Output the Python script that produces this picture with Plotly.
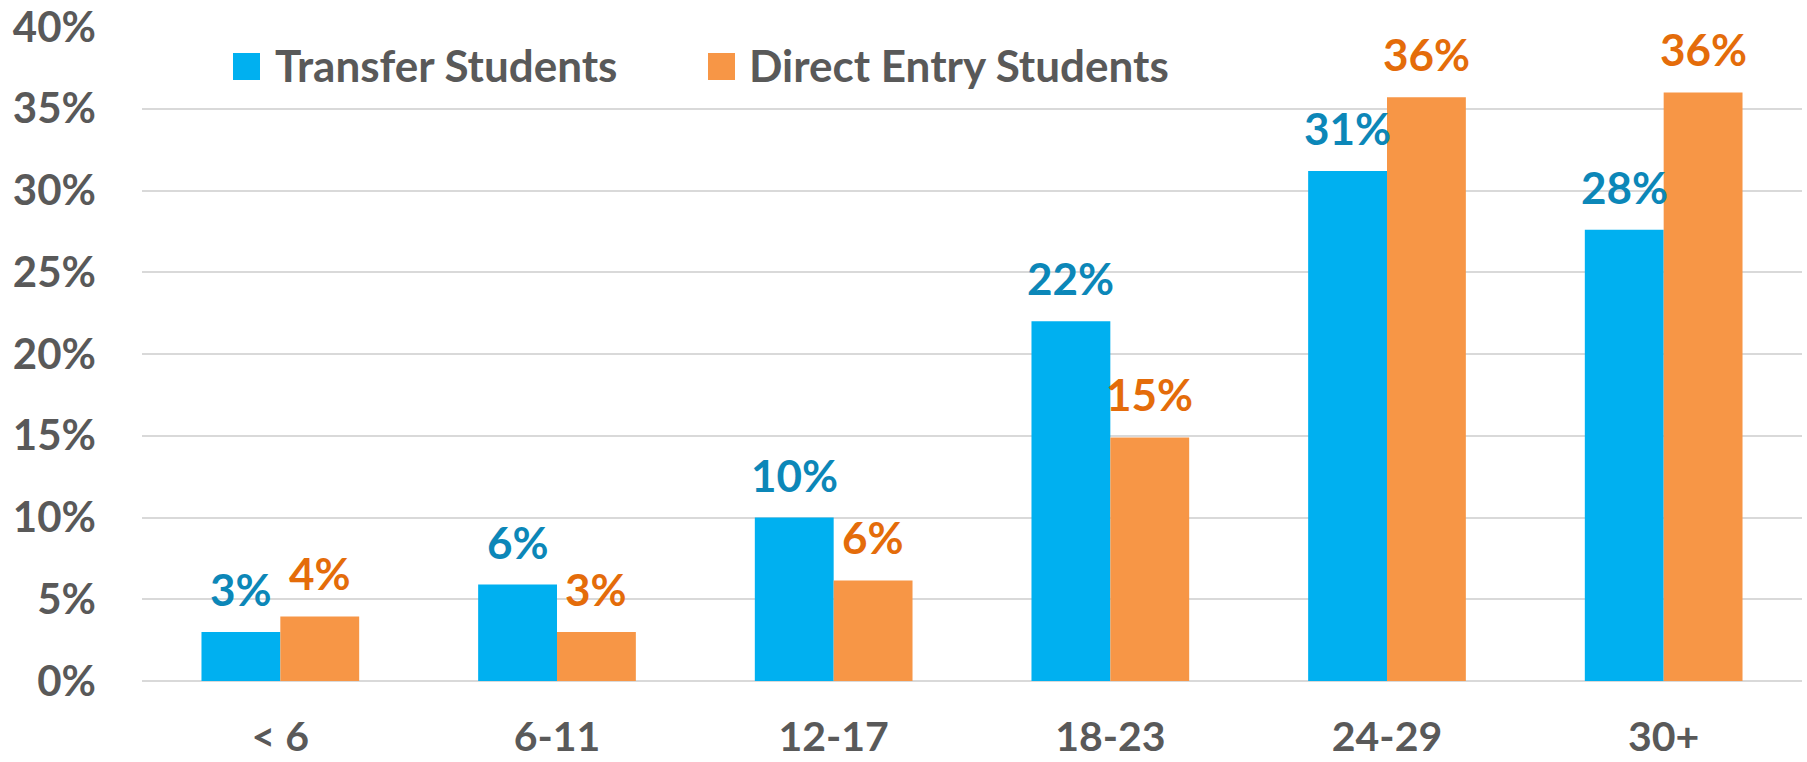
import plotly.graph_objects as go

categories = ["< 6", "6-11", "12-17", "18-23", "24-29", "30+"]
transfer = [3.0, 5.9, 10.0, 22.0, 31.2, 27.6]
direct = [3.95, 3.0, 6.15, 14.9, 35.7, 36.0]
transfer_labels = ["3%", "6%", "10%", "22%", "31%", "28%"]
direct_labels = ["4%", "3%", "6%", "15%", "36%", "36%"]
series_names = ["Transfer Students", "Direct Entry Students"]
y_ticks = [0, 5, 10, 15, 20, 25, 30, 35, 40]

W, H = 1807, 762
ML, MR, MT, MB = 142, 5, 27, 81
PW, PH = W - ML - MR, H - MT - MB
BARGAP = 0.43

C_BLUE = "#00B0F0"
C_ORANGE = "#F79646"
C_BLUE_TXT = "#0C87B8"
C_ORANGE_TXT = "#E46C0A"
C_GRAY = "#595959"
FONT = "Lato"

fig = go.Figure()
fig.add_trace(go.Bar(x=categories, y=transfer, name=series_names[0],
                     marker=dict(color=C_BLUE, line=dict(width=0))))
fig.add_trace(go.Bar(x=categories, y=direct, name=series_names[1],
                     marker=dict(color=C_ORANGE, line=dict(width=0))))

cat_px = PW / len(categories)
shift = cat_px * (1 - BARGAP) / 4

annotations = []
for cat, v, lab in zip(categories, transfer, transfer_labels):
    annotations.append(dict(x=cat, y=v, xref="x", yref="y", text=lab, showarrow=False,
                            xanchor="center", yanchor="bottom", xshift=-shift, yshift=15,
                            font=dict(family=FONT, size=44, color=C_BLUE_TXT, weight=700)))
for cat, v, lab in zip(categories, direct, direct_labels):
    annotations.append(dict(x=cat, y=v, xref="x", yref="y", text=lab, showarrow=False,
                            xanchor="center", yanchor="bottom", xshift=shift, yshift=15,
                            font=dict(family=FONT, size=44, color=C_ORANGE_TXT, weight=700)))

def px_x(p):
    return (p - ML) / PW

def px_y(p):
    return (H - MB - p) / PH

# manual legend
legend_items = [(233, 273, C_BLUE, series_names[0]), (708, 747, C_ORANGE, series_names[1])]
shapes = []
for sx, tx, col, name in legend_items:
    shapes.append(dict(type="rect", xref="paper", yref="paper",
                       x0=px_x(sx), x1=px_x(sx + 27), y0=px_y(80), y1=px_y(53),
                       fillcolor=col, line=dict(width=0), layer="above"))
    annotations.append(dict(x=px_x(tx), y=px_y(65), xref="paper", yref="paper", text=name,
                            showarrow=False, xanchor="left", yanchor="middle",
                            font=dict(family=FONT, size=44, color=C_GRAY, weight=700)))

fig.update_layout(
    width=W, height=H,
    margin=dict(l=ML, r=MR, t=MT, b=MB, pad=0, autoexpand=False),
    paper_bgcolor="white", plot_bgcolor="white",
    barmode="group", bargap=BARGAP, bargroupgap=0,
    showlegend=False,
    annotations=annotations, shapes=shapes,
    font=dict(family=FONT, color=C_GRAY),
)
fig.update_xaxes(showgrid=False, showline=False, zeroline=False, ticks="", automargin=False,
                 tickfont=dict(family=FONT, size=41, color=C_GRAY, weight=700),
                 ticklabelstandoff=28)
fig.update_yaxes(range=[0, 40], tickvals=y_ticks, ticktext=[f"{t}%" for t in y_ticks],
                 showgrid=True, gridcolor="#D9D9D9", gridwidth=2, zeroline=True,
                 zerolinecolor="#D9D9D9", zerolinewidth=2, showline=False, ticks="",
                 automargin=False,
                 tickfont=dict(family=FONT, size=42, color=C_GRAY, weight=700),
                 ticklabelstandoff=45)

fig.write_html("out.html", config={"displayModeBar": False},
               post_script="document.body.style.margin='0';document.body.style.overflow='hidden';")
